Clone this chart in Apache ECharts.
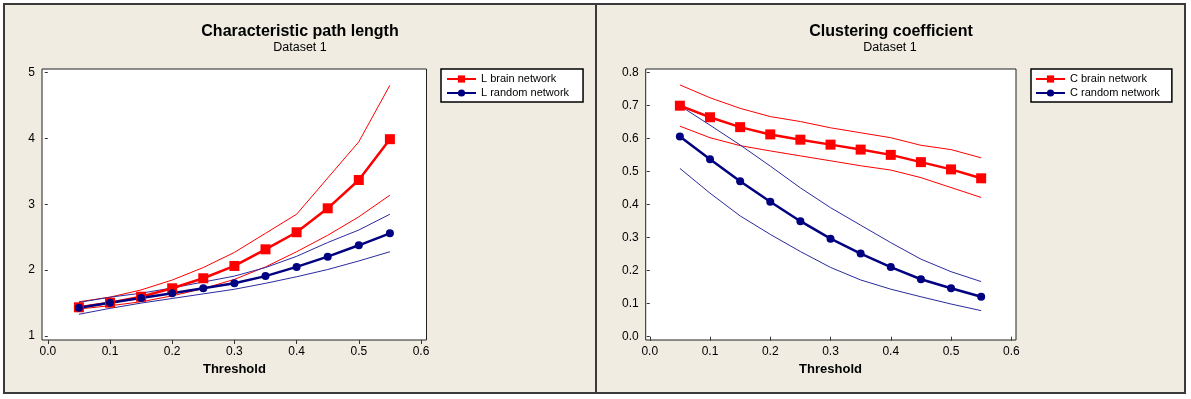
<!DOCTYPE html>
<html>
<head>
<meta charset="utf-8">
<script src="https://cdn.jsdelivr.net/npm/echarts@6/dist/echarts.min.js"></script>
<style>
  html, body { margin: 0; padding: 0; background: #ffffff; }
  #frame { position: absolute; left: 3px; top: 3px; width: 1179px; height: 387px;
           border: 2px solid #3a3a3a; background: #f0ece2; }
  #divider { position: absolute; left: 595px; top: 3px; width: 2px; height: 391px; background: #3a3a3a; }
  #chart { position: absolute; left: 0; top: 0; width: 1191px; height: 399px; }
</style>
</head>
<body>
<div id="frame"></div>
<div id="divider"></div>
<div id="chart"></div>
<script>
// ---- data ----
const thresholds = [0.05, 0.10, 0.15, 0.20, 0.25, 0.30, 0.35, 0.40, 0.45, 0.50, 0.55];

// Characteristic path length
const L_brain       = [1.436, 1.506, 1.597, 1.725, 1.877, 2.064, 2.317, 2.576, 2.94, 3.37, 3.99];
const L_brain_upper = [1.52, 1.59, 1.70, 1.85, 2.04, 2.27, 2.56, 2.85, 3.40, 3.95, 4.81];
const L_brain_lower = [1.41, 1.46, 1.52, 1.61, 1.72, 1.86, 2.05, 2.28, 2.53, 2.81, 3.14];
const L_random       = [1.43, 1.506, 1.578, 1.649, 1.725, 1.80, 1.91, 2.05, 2.205, 2.378, 2.56];
const L_random_upper = [1.51, 1.59, 1.65, 1.73, 1.82, 1.91, 2.04, 2.21, 2.42, 2.61, 2.85];
const L_random_lower = [1.33, 1.42, 1.50, 1.57, 1.64, 1.71, 1.80, 1.90, 2.01, 2.14, 2.28];

// Clustering coefficient
const C_brain       = [0.700, 0.665, 0.635, 0.613, 0.597, 0.582, 0.567, 0.551, 0.529, 0.507, 0.480];
const C_brain_upper = [0.763, 0.724, 0.692, 0.667, 0.652, 0.633, 0.618, 0.603, 0.580, 0.567, 0.542];
const C_brain_lower = [0.638, 0.603, 0.579, 0.563, 0.548, 0.533, 0.518, 0.505, 0.482, 0.452, 0.422];
const C_random       = [0.607, 0.538, 0.471, 0.409, 0.350, 0.297, 0.252, 0.211, 0.174, 0.147, 0.121];
const C_random_upper = [0.700, 0.641, 0.581, 0.517, 0.451, 0.391, 0.338, 0.285, 0.235, 0.197, 0.167];
const C_random_lower = [0.510, 0.435, 0.366, 0.310, 0.258, 0.210, 0.172, 0.144, 0.121, 0.099, 0.079];

// tick labels
const xTickLabels = ['0.0', '0.1', '0.2', '0.3', '0.4', '0.5', '0.6'];
const yTickLabelsL = ['1', '2', '3', '4', '5'];
const yTickLabelsC = ['0.0', '0.1', '0.2', '0.3', '0.4', '0.5', '0.6', '0.7', '0.8'];

const titles = ['Characteristic path length', 'Clustering coefficient'];
const subtitle = 'Dataset 1';
const xName = 'Threshold';
const legendL = ['L brain network', 'L random network'];
const legendC = ['C brain network', 'C random network'];

// ---- styling ----
const RED = '#ff0000';
const NAVY = '#000080';
const THIN_BLUE = '#2a2aa0';
const FONT = "'Liberation Sans', Arial, sans-serif";

const pairs = arr => thresholds.map((t, i) => [t, arr[i]]);

const chart = echarts.init(document.getElementById('chart'), null, { renderer: 'canvas' });

function dataX(gi, labels) {
  return {
    gridIndex: gi, type: 'value', min: 0, max: 0.6, interval: 0.1,
    offset: gi === 0 ? 4 : 3.3,
    name: xName, nameLocation: 'middle', nameGap: 22,
    nameTextStyle: { fontFamily: FONT, fontSize: 13, fontWeight: 'bold', color: '#000' },
    axisLine: { show: false },
    axisTick: { show: true, length: 4, lineStyle: { color: '#333', width: 1 } },
    axisLabel: { margin: 6, fontFamily: FONT, fontSize: 12, color: '#000',
                 formatter: v => labels[Math.round(v * 10)] },
    splitLine: { show: false }
  };
}
function dataY(gi, min, max, interval, labels, offset) {
  return {
    gridIndex: gi, type: 'value', min: min, max: max, interval: interval, offset: offset,
    axisLine: { show: false },
    axisTick: { show: true, length: 3, lineStyle: { color: '#333', width: 1 } },
    axisLabel: { margin: 7, fontFamily: FONT, fontSize: 12, color: '#000',
                 formatter: v => labels[Math.round((v - min) / interval)] },
    splitLine: { show: false }
  };
}
const hiddenAxis = gi => ({ gridIndex: gi, type: 'value', show: false, min: 0, max: 1 });

function mainSeries(name, arr, gi, color, symbol, size) {
  return {
    name: name, type: 'line', xAxisIndex: gi, yAxisIndex: gi, data: pairs(arr),
    symbol: symbol, symbolSize: size, showSymbol: true,
    lineStyle: { color: color, width: 2.5 }, itemStyle: { color: color },
    z: 5, animation: false
  };
}
function bandSeries(arr, gi, color) {
  return {
    type: 'line', xAxisIndex: gi, yAxisIndex: gi, data: pairs(arr),
    symbol: 'none', showSymbol: false, silent: true,
    lineStyle: { color: color, width: 1 }, z: 3, animation: false
  };
}

const legendCommon = {
  orient: 'vertical', top: 69, itemWidth: 29, itemHeight: 9, itemGap: 2,
  backgroundColor: '#ffffff', borderColor: '#000', borderWidth: 1.5, borderRadius: 0,
  textStyle: { fontFamily: FONT, fontSize: 11, color: '#000', lineHeight: 12 },
  selectedMode: false
};

const option = {
  backgroundColor: 'transparent',
  animation: false,
  grid: [
    { left: 47.8, top: 72.7, width: 373.2, height: 263.3, outerBoundsMode: 'none' },   // 0 L data
    { left: 649.75, top: 72.7, width: 361.55, height: 264, outerBoundsMode: 'none' },  // 1 C data
    { left: 42, top: 69, width: 384.5, height: 271, show: true, backgroundColor: '#fff',
      borderColor: '#222', borderWidth: 1, outerBoundsMode: 'none' },                  // 2 L frame
    { left: 645.7, top: 69, width: 370.3, height: 271, show: true, backgroundColor: '#fff',
      borderColor: '#222', borderWidth: 1, outerBoundsMode: 'none' }                   // 3 C frame
  ],
  xAxis: [ dataX(0, xTickLabels), dataX(1, xTickLabels), hiddenAxis(2), hiddenAxis(3) ],
  yAxis: [
    dataY(0, 1, 5, 1, yTickLabelsL, 5.8),
    dataY(1, 0, 0.8, 0.1, yTickLabelsC, 4),
    hiddenAxis(2), hiddenAxis(3)
  ],
  legend: [
    Object.assign({}, legendCommon, { left: 441, padding: [4, 14, 3, 5], data: legendL }),
    Object.assign({}, legendCommon, { left: 1031, padding: [4, 12, 3, 4], data: legendC })
  ],
  graphic: [
    { type: 'text', x: 300, y: 32, style: { text: titles[0], align: 'center', verticalAlign: 'middle',
      font: "bold 16px 'Liberation Sans', Arial, sans-serif", fill: '#000' } },
    { type: 'text', x: 300, y: 48, style: { text: subtitle, align: 'center', verticalAlign: 'middle',
      font: "12.5px 'Liberation Sans', Arial, sans-serif", fill: '#000' } },
    { type: 'text', x: 891, y: 32, style: { text: titles[1], align: 'center', verticalAlign: 'middle',
      font: "bold 16px 'Liberation Sans', Arial, sans-serif", fill: '#000' } },
    { type: 'text', x: 890, y: 48, style: { text: subtitle, align: 'center', verticalAlign: 'middle',
      font: "12.5px 'Liberation Sans', Arial, sans-serif", fill: '#000' } }
  ],
  series: [
    bandSeries(L_brain_upper, 0, RED),
    bandSeries(L_brain_lower, 0, RED),
    bandSeries(L_random_upper, 0, THIN_BLUE),
    bandSeries(L_random_lower, 0, THIN_BLUE),
    mainSeries(legendL[0], L_brain, 0, RED, 'rect', 10),
    mainSeries(legendL[1], L_random, 0, NAVY, 'circle', 8),

    bandSeries(C_brain_upper, 1, RED),
    bandSeries(C_brain_lower, 1, RED),
    bandSeries(C_random_upper, 1, THIN_BLUE),
    bandSeries(C_random_lower, 1, THIN_BLUE),
    mainSeries(legendC[0], C_brain, 1, RED, 'rect', 10),
    mainSeries(legendC[1], C_random, 1, NAVY, 'circle', 8)
  ]
};
chart.setOption(option);
</script>
</body>
</html>
